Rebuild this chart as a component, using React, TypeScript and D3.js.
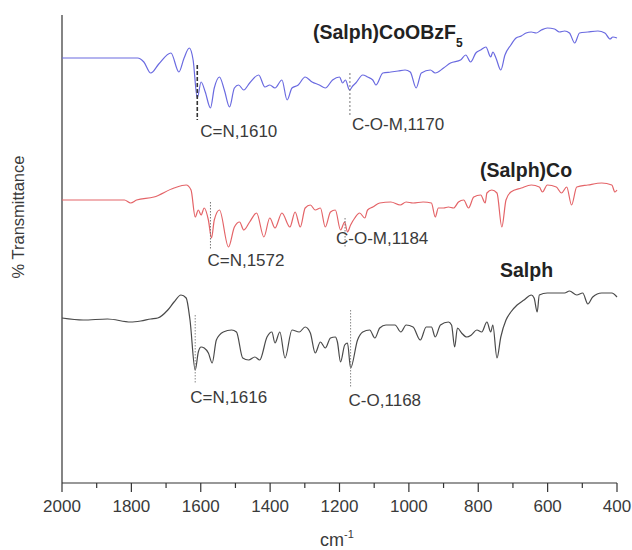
import React from "react";
import * as d3 from "d3";

// ---------- DATA (wavenumber cm-1, % transmittance with offsets) ----------
const blueW = [2000,1782,1764,1744,1721,1686,1663,1648,1633,1622,1610,1599,1587,1572,1561,1546,1532,1517,1503,1491,1476,1459,1433,1415,1401,1386,1366,1351,1337,1319,1299,1279,1258,1241,1220,1200,1191,1183,1171,1162,1153,1133,1119,1104,1095,1075,1052,1031,1011,996,979,964,938,924,900,880,851,836,822,807,793,778,764,758,749,735,723,706,691,676,662,647,633,618,601,580,566,551,537,522,508,484,455,435,420,412,400];
const blueT = [84.8,84.8,84.0,81.8,83.6,85.8,82.0,84.8,86.8,84.4,76.8,80.0,78.0,74.8,78.8,81.0,78.4,75.0,78.8,79.4,78.4,79.8,81.4,79.0,79.4,78.8,80.4,76.4,78.8,79.4,81.0,80.0,79.4,78.8,80.4,81.0,79.8,80.4,78.4,79.2,79.8,81.4,81.0,80.4,79.4,81.8,82.0,82.2,82.4,82.0,78.8,81.8,82.4,81.8,82.8,83.8,84.4,85.4,84.0,85.8,86.4,87.0,85.0,86.0,84.8,82.4,85.4,87.4,88.8,89.2,89.8,90.0,89.8,90.4,90.8,90.6,90.0,90.2,89.8,87.8,89.8,90.0,90.2,89.8,88.6,89.0,88.8];

const redW = [2000,1820,1802,1785,1735,1677,1642,1628,1616,1607,1599,1590,1578,1569,1561,1546,1520,1503,1488,1476,1459,1439,1418,1401,1386,1366,1343,1328,1313,1299,1284,1270,1255,1241,1226,1212,1197,1185,1177,1168,1156,1142,1127,1119,1104,1084,1052,1025,1008,988,959,935,924,915,900,886,871,857,842,828,813,793,780,775,761,746,732,720,706,676,647,624,615,601,575,560,545,531,516,484,444,415,406,400];
const redT = [56.4,56.4,55.8,56.4,57.0,58.8,59.4,58.4,53.0,54.4,53.4,54.8,52.4,48.8,52.4,54.4,47.0,51.0,52.0,50.4,52.0,53.8,49.0,52.8,50.8,53.8,51.0,54.0,51.0,54.8,55.4,54.4,54.8,51.0,54.0,54.4,50.4,52.0,50.0,51.4,52.8,53.8,52.8,54.4,55.0,55.8,56.0,55.4,56.0,55.8,56.0,55.8,53.0,54.8,54.8,55.0,54.8,56.0,56.4,54.8,57.0,57.4,55.8,57.8,58.4,57.8,51.0,56.4,58.0,58.8,59.4,59.0,58.0,59.4,59.0,57.8,59.0,55.4,59.0,59.4,59.8,59.4,58.0,58.4];

const blackW = [2000,1939,1869,1802,1773,1744,1724,1695,1677,1657,1642,1631,1616,1607,1599,1590,1578,1567,1555,1535,1511,1497,1479,1462,1444,1430,1409,1395,1386,1372,1357,1337,1316,1299,1284,1270,1255,1241,1226,1212,1206,1197,1185,1177,1168,1148,1133,1113,1098,1084,1066,1040,1023,1008,988,967,950,935,924,909,886,877,868,860,848,833,820,804,790,775,764,758,746,735,720,706,688,668,647,639,630,624,601,575,551,537,516,499,484,470,444,415,400];
const blackT = [32.8,32.4,32.6,32.0,32.2,32.6,32.8,34.4,36.0,37.4,36.8,32.4,22.4,26.0,27.0,26.8,25.8,23.8,28.4,30.0,30.4,30.0,24.8,24.4,25.0,24.4,29.0,30.0,27.8,30.0,24.8,30.4,30.0,31.0,29.8,25.8,28.0,26.8,28.8,29.0,28.0,24.0,27.4,27.8,22.8,28.4,30.0,30.4,28.8,30.8,31.4,31.4,30.0,31.4,31.0,28.4,31.0,31.0,29.0,31.4,32.0,31.4,27.0,30.8,29.8,29.0,29.4,30.4,30.0,32.0,30.0,31.4,24.8,29.0,32.4,34.0,35.4,36.4,37.4,36.8,34.0,37.4,37.8,37.8,37.8,38.2,37.4,37.8,35.6,37.0,37.8,37.8,37.0];

const seriesNames = ["(Salph)CoOBzF", "(Salph)Co", "Salph"];
const seriesColors = ["#6a6ae0", "#e46468", "#4a4a4a"];

// peak annotations: wavenumber, label, dashed-line top/bottom (%T), label baseline (%T)
const annW = [1610, 1170, 1572, 1184, 1616, 1168];
const annLabels = ["C=N,1610", "C-O-M,1170", "C=N,1572", "C-O-M,1184", "C=N,1616", "C-O,1168"];
const annTop = [83.4, 81.8, 56.0, 52.8, 33.4, 34.4];
const annBottom = [72.4, 73.4, 46.4, 47.0, 19.8, 19.0];
const annLabelT = [69.0, 70.4, 43.2, 47.6, 15.8, 15.2];

const xTickMajor = [2000, 1800, 1600, 1400, 1200, 1000, 800, 600, 400];
const xTickMinor = [1900, 1700, 1500, 1300, 1100, 900, 700, 500];

export default function App() {
  const W = 632, H = 550;
  const left = 62, right = 617, top = 15, bottom = 483;
  const x = d3.scaleLinear().domain([2000, 400]).range([left, right]);
  const y = d3.scaleLinear().domain([0, 93.4]).range([482, 15]);
  const font = "'Liberation Sans', Arial, Helvetica, sans-serif";

  const line = d3
    .line<[number, number]>()
    .x((d) => x(d[0]))
    .y((d) => y(d[1]))
    .curve(d3.curveMonotoneX);

  const series = [
    d3.zip(blueW, blueT) as [number, number][],
    d3.zip(redW, redT) as [number, number][],
    d3.zip(blackW, blackT) as [number, number][],
  ];

  // annotation colours/styles: first one is a heavier dashed line
  const annStroke = ["#333", "#777", "#777", "#777", "#888", "#888"];
  const annDash = ["4,2", "2,2", "1.5,1.5", "1.5,1.5", "1.5,1.5", "1.5,1.5"];
  const annWidth = [1.6, 1, 1, 1, 1, 1];
  const annDx = [3, 2, -3, -9, -5, -2];

  return (
    <svg width={W} height={H} style={{ position: "absolute", left: 0, top: 0, background: "#fff" }} fontFamily={font}>
      <rect x={0} y={0} width={W} height={H} fill="#fff" />
      {/* axes */}
      <line x1={left} x2={left} y1={top} y2={bottom} stroke="#333" strokeWidth={1.2} />
      <line x1={left} x2={right} y1={bottom} y2={bottom} stroke="#333" strokeWidth={1.2} />
      {xTickMajor.map((t) => (
        <g key={"M" + t}>
          <line x1={x(t)} x2={x(t)} y1={bottom} y2={bottom + 9} stroke="#333" strokeWidth={1.2} />
          <text x={x(t)} y={512} textAnchor="middle" fontSize={17} fill="#3a3a3a">
            {t}
          </text>
        </g>
      ))}
      {xTickMinor.map((t) => (
        <line key={"m" + t} x1={x(t)} x2={x(t)} y1={bottom} y2={bottom + 5} stroke="#333" strokeWidth={1.2} />
      ))}
      <text x={337} y={546} textAnchor="middle" fontSize={18} fill="#3a3a3a">
        cm<tspan dy={-8} fontSize={11}>-1</tspan>
      </text>
      <text transform={`translate(24,217) rotate(-90)`} textAnchor="middle" fontSize={16.5} fill="#3a3a3a">
        % Transmittance
      </text>

      {/* spectra */}
      {series.map((s, i) => (
        <path key={i} d={line(s) || ""} fill="none" stroke={seriesColors[i]} strokeWidth={1.2} />
      ))}

      {/* annotations */}
      {annW.map((w, i) => (
        <g key={"a" + i}>
          <line
            x1={x(w)}
            x2={x(w)}
            y1={y(annTop[i])}
            y2={y(annBottom[i])}
            stroke={annStroke[i]}
            strokeWidth={annWidth[i]}
            strokeDasharray={annDash[i]}
          />
          <text x={x(w) + annDx[i]} y={y(annLabelT[i])} fontSize={17} fill="#3a3a3a">
            {annLabels[i]}
          </text>
        </g>
      ))}

      {/* series names */}
      <text x={313} y={39} fontSize={19.5} fontWeight="bold" fill="#222">
        {seriesNames[0]}
        <tspan dy={8} fontSize={12}>5</tspan>
      </text>
      <text x={480} y={177} fontSize={19.5} fontWeight="bold" fill="#222">
        {seriesNames[1]}
      </text>
      <text x={500} y={277} fontSize={19.5} fontWeight="bold" fill="#222">
        {seriesNames[2]}
      </text>
    </svg>
  );
}
